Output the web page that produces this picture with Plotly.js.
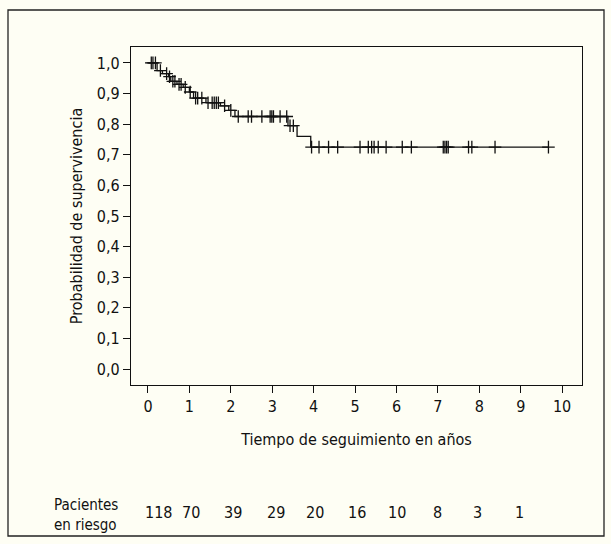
<!DOCTYPE html>
<html>
<head>
<meta charset="utf-8">
<script src="https://cdn.plot.ly/plotly-3.0.1.min.js"></script>
<style>body{margin:0;background:#fefef4}#chart{width:611px;height:544px}</style>
</head>
<body>
<div id="chart"></div>
<script>
// Kaplan-Meier steps (years, survival)
const stepTimes = [0, 0.22, 0.35, 0.5, 0.55, 0.7, 0.85, 1.0, 1.1, 1.4, 1.75, 1.95, 2.1, 3.38, 3.6, 3.93, 9.67];
const stepSurv = [1.0, 0.975, 0.965, 0.955, 0.94, 0.93, 0.92, 0.905, 0.885, 0.87, 0.86, 0.845, 0.825, 0.795, 0.76, 0.725, 0.725];
// censored observations (years)
const censorTimes = [0.08, 0.12, 0.18, 0.3, 0.45, 0.52, 0.6, 0.65, 0.75, 0.8, 0.9, 1.02, 1.15, 1.2, 1.3,
  1.45, 1.55, 1.6, 1.65, 1.7, 1.85, 2.0, 2.18, 2.42, 2.5, 2.75, 2.95, 2.99, 3.03, 3.19, 3.35, 3.43, 3.51,
  3.95, 4.13, 4.36, 4.58, 5.12, 5.32, 5.4, 5.46, 5.56, 5.75, 6.14, 6.36, 7.13, 7.17, 7.21, 7.25, 7.74, 7.82, 8.38, 9.67];
const riskTimes = [0.25, 1.05, 2.05, 3.08, 4.03, 5.05, 6.02, 7.0, 7.95, 8.96];
const riskCounts = [118, 70, 39, 29, 20, 16, 10, 8, 3, 1];

function survAt(t) {
  let s = stepSurv[0];
  for (let i = 0; i < stepTimes.length; i++) if (stepTimes[i] <= t) s = stepSurv[i];
  return s;
}

const font = 'DejaVu Sans Condensed, Liberation Sans Narrow, Liberation Sans, sans-serif';

const curve = {
  x: stepTimes, y: stepSurv, type: 'scatter', mode: 'lines',
  line: {shape: 'hv', color: '#111', width: 1.3}, hoverinfo: 'skip'
};
const censors = {
  x: censorTimes, y: censorTimes.map(survAt), type: 'scatter', mode: 'markers',
  marker: {symbol: 'cross-thin', size: 9, line: {color: '#111', width: 1.3}}
};

// pixel helpers for paper coords (plot box 131..582 x 47..385)
const px = v => (v - 131) / 451;
const py = v => (385 - v) / 338;

const annotations = riskTimes.map((t, i) => ({
  x: t, y: py(512), xref: 'x', yref: 'paper', yanchor: 'middle', text: String(riskCounts[i]),
  showarrow: false, xanchor: 'center', font: {family: font, size: 16, color: '#111'}
}));
annotations.push({
  x: px(52), y: py(515), xref: 'paper', yref: 'paper', yanchor: 'middle', text: 'Pacientes<br>en riesgo',
  showarrow: false, xanchor: 'left', align: 'left', font: {family: font, size: 15, color: '#111'}
});

const layout = {
  width: 611, height: 544,
  margin: {l: 131, r: 29, t: 47, b: 159},
  paper_bgcolor: '#fefef4', plot_bgcolor: '#fefef4',
  separators: ',.',
  showlegend: false,
  font: {family: font, size: 16, color: '#111'},
  xaxis: {
    range: [-0.41, 10.48], tickvals: [0,1,2,3,4,5,6,7,8,9,10],
    ticks: 'outside', ticklen: 7, tickcolor: '#111', showgrid: false, zeroline: false,
    showline: true, linecolor: '#111', mirror: true, linewidth: 1.3,
    title: {text: 'Tiempo de seguimiento en años', font: {family: font, size: 16}, standoff: 18}
  },
  yaxis: {
    range: [-0.052, 1.052], tickvals: [0,0.1,0.2,0.3,0.4,0.5,0.6,0.7,0.8,0.9,1.0], tickformat: '.1f',
    ticks: 'outside', ticklen: 7, tickcolor: '#111', showgrid: false, zeroline: false,
    showline: true, linecolor: '#111', mirror: true, linewidth: 1.3,
    title: {text: 'Probabilidad de supervivencia', font: {family: font, size: 16}, standoff: 10}
  },
  shapes: [{
    type: 'rect', xref: 'paper', yref: 'paper',
    x0: px(8), x1: px(604), y0: py(536), y1: py(10),
    line: {color: '#222', width: 1.3}
  }],
  annotations: annotations
};

Plotly.newPlot('chart', [curve, censors], layout, {displayModeBar: false});
</script>
</body>
</html>
